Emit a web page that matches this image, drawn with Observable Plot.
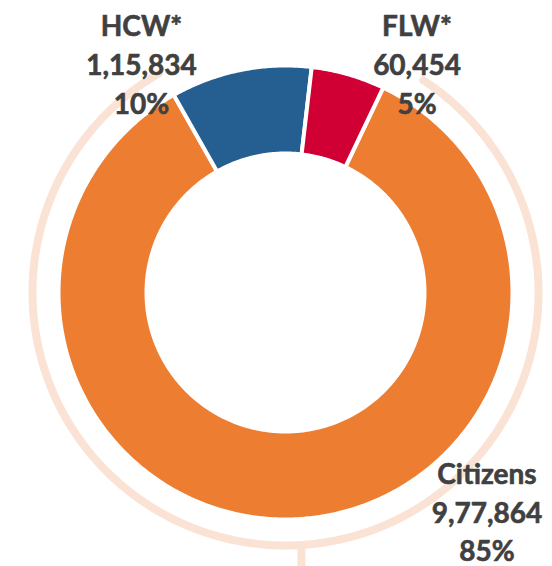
<!DOCTYPE html>
<html>
<head>
<meta charset="utf-8">
<script src="https://cdn.jsdelivr.net/npm/d3@7"></script>
<script src="https://cdn.jsdelivr.net/npm/@observablehq/plot@0.6"></script>
<style>
  html, body { margin: 0; padding: 0; background: #ffffff; }
  #chart svg { display: block; }
</style>
</head>
<body>
<div id="chart"></div>
<script>
// ---- data ----
const categories = ["Citizens", "HCW*", "FLW*"];
const values = [977864, 115834, 60454];
const valueLabels = ["9,77,864", "1,15,834", "60,454"];
const colors = ["#ED7D31", "#255F91", "#D10034"];

// ---- layout (pixels, centre of donut = origin, y up) ----
const W = 552, H = 566;
const cx = 285, cy = 292;
const rOuter = 227, rInner = 139;       // slice geometry (white border eats 2px)
const firstSliceAngle = 25.5;           // degrees clockwise from 12 o'clock
const ringRadius = 253, ringFrom = 33, ringTo = 330, tickAngle = 176.4;
const labelAnchors = {
  "Citizens": [201.5, -218],
  "HCW*": [-144, 230],
  "FLW*": [131.5, 230]
};

const total = d3.sum(values);
const rad = (deg) => deg * Math.PI / 180;
const pt = (r, deg) => [r * Math.sin(rad(deg)), r * Math.cos(rad(deg))];

// slice polygons
const slicePts = [];
let a = firstSliceAngle;
const slices = categories.map((c, i) => {
  const span = values[i] / total * 360;
  const s = {category: c, a0: a, a1: a + span, value: values[i]};
  a += span;
  return s;
});
for (const s of slices) {
  const n = Math.max(8, Math.ceil((s.a1 - s.a0) * 2));
  for (let k = 0; k <= n; k++) {
    const t = s.a0 + (s.a1 - s.a0) * k / n;
    const [x, y] = pt(rOuter, t);
    slicePts.push({category: s.category, x, y});
  }
  for (let k = n; k >= 0; k--) {
    const t = s.a0 + (s.a1 - s.a0) * k / n;
    const [x, y] = pt(rInner, t);
    slicePts.push({category: s.category, x, y});
  }
}

// bracket ring around the Citizens share
const ringPts = d3.range(ringFrom, ringTo + 0.5, 0.5).map(t => {
  const [x, y] = pt(ringRadius, t);
  return {x, y};
});
const [tx, ty] = pt(ringRadius, tickAngle);
const tick = [{x1: tx, y1: ty, x2: tx, y2: -(H - cy) - 2}];

const labels = categories.map((c, i) => ({
  x: labelAnchors[c][0],
  y: labelAnchors[c][1],
  lh: c === "Citizens" ? 1.37 : 1.39,
  text: `${c}\n${valueLabels[i]}\n${d3.format(".0%")(values[i] / total)}`
}));

const textOpts = {
  x: "x", y: "y", text: "text",
  fill: "#404040",
  stroke: "#404040",
  strokeWidth: 0.6,
  fontFamily: "Lato",
  fontWeight: "bold",
  fontSize: 28,
  textAnchor: "middle",
  lineAnchor: "middle"
};

const chart = Plot.plot({
  width: W,
  height: H,
  margin: 0,
  x: {domain: [-cx, W - cx], axis: null},
  y: {domain: [-(H - cy), cy], axis: null},
  color: {domain: categories, range: colors},
  style: {background: "#ffffff"},
  marks: [
    Plot.line(ringPts, {x: "x", y: "y", stroke: "#FAE3D5", strokeWidth: 8, curve: "linear"}),
    Plot.link(tick, {x1: "x1", y1: "y1", x2: "x2", y2: "y2", stroke: "#FAE3D5", strokeWidth: 8}),
    Plot.line(slicePts, {x: "x", y: "y", z: "category", fill: "category", stroke: "#ffffff", strokeWidth: 4, curve: "linear-closed"}),
    Plot.text(labels.filter(d => d.lh !== 1.37), {...textOpts, lineHeight: 1.39}),
    Plot.text(labels.filter(d => d.lh === 1.37), {...textOpts, lineHeight: 1.37})
  ]
});
document.getElementById("chart").appendChild(chart);
</script>
</body>
</html>
